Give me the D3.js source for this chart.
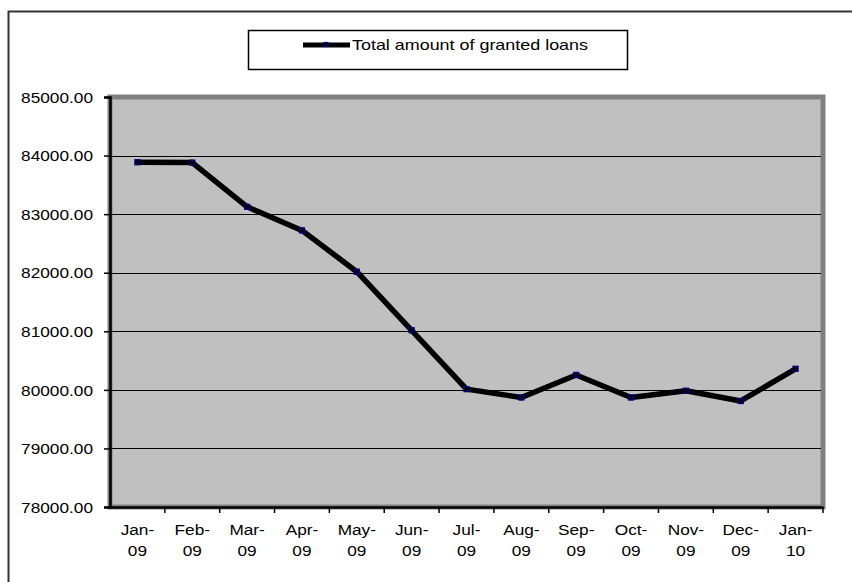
<!DOCTYPE html>
<html>
<head>
<meta charset="utf-8">
<script src="https://cdn.jsdelivr.net/npm/d3@7"></script>
<style>
  html, body { margin: 0; padding: 0; background: #fff; }
  svg { display: block; }
  text { font-family: Arial, "Liberation Sans", sans-serif; fill: #000; }
</style>
</head>
<body>
<svg id="chart" width="852" height="582"></svg>
<script>
const months = ["Jan-09","Feb-09","Mar-09","Apr-09","May-09","Jun-09","Jul-09","Aug-09","Sep-09","Oct-09","Nov-09","Dec-09","Jan-10"];
const loans = [83886, 83880, 83125, 82722, 82017, 81017, 80012, 79870, 80255, 79870, 79985, 79810, 80360];
const yTicks = [78000, 79000, 80000, 81000, 82000, 83000, 84000, 85000];
const seriesName = "Total amount of granted loans";

const svg = d3.select("#chart");
const plot = { left: 110, right: 823, top: 97, bottom: 507 };
const STRETCH = 1.15;

// outer chart border (extends past the frame on right/bottom)
svg.append("rect")
  .attr("x", 8.5).attr("y", 11.5)
  .attr("width", 900).attr("height", 700)
  .attr("fill", "#fff").attr("stroke", "#333").attr("stroke-width", 2);

const x = d3.scaleBand().domain(months).range([plot.left, plot.right]);
const y = d3.scaleLinear().domain([78000, 85000]).range([plot.bottom, plot.top]);

// plot area background
svg.append("rect")
  .attr("x", plot.left).attr("y", plot.top)
  .attr("width", plot.right - plot.left).attr("height", plot.bottom - plot.top)
  .attr("fill", "#C0C0C0").attr("stroke", "#808080").attr("stroke-width", 5);

// gridlines
svg.append("g").selectAll("line")
  .data(yTicks.filter(v => v > 78000 && v < 85000))
  .join("line")
  .attr("x1", plot.left).attr("x2", plot.right - 2)
  .attr("y1", d => Math.round(y(d)) + 0.5).attr("y2", d => Math.round(y(d)) + 0.5)
  .attr("stroke", "#000").attr("stroke-width", 1);

// y axis
const yAxis = svg.append("g")
  .attr("transform", `translate(${plot.left},0)`)
  .call(d3.axisLeft(y).tickValues(yTicks).tickSize(6).tickFormat(d3.format(".2f")));
yAxis.select(".domain").attr("stroke", "#000").attr("stroke-width", 2.5);
yAxis.selectAll(".tick line").attr("stroke", "#000").attr("stroke-width", 1.5);
yAxis.selectAll(".tick text").remove();
yAxis.selectAll(".tick").append("text")
  .attr("transform", `translate(-17,0) scale(${STRETCH},1)`)
  .attr("text-anchor", "end").attr("dy", "0.35em")
  .style("font-size", "15px")
  .text(d => d3.format(".2f")(d));

// x axis
const bw = x.bandwidth();
const xAxis = svg.append("g")
  .attr("transform", `translate(0,${plot.bottom})`)
  .call(d3.axisBottom(x).tickSize(0).tickFormat(""));
xAxis.select(".domain").attr("stroke", "#000").attr("stroke-width", 2.5);
xAxis.selectAll(".tick text").remove();
// tick marks at category boundaries
xAxis.append("g").selectAll("line")
  .data(months)
  .join("line")
  .attr("x1", d => x(d) + bw).attr("x2", d => x(d) + bw)
  .attr("y1", 0).attr("y2", 6)
  .attr("stroke", "#000").attr("stroke-width", 1.5);
const labels = xAxis.selectAll(".tick").append("text")
  .attr("transform", `translate(0,28) scale(${STRETCH},1)`)
  .attr("text-anchor", "middle")
  .style("font-size", "15px");
labels.append("tspan").attr("x", 0).attr("y", 0).text(d => d.split("-")[0] + "-");
labels.append("tspan").attr("x", 0).attr("y", 21).text(d => d.split("-")[1]);

// line
const data = months.map((m, i) => ({ m, v: loans[i] }));
const line = d3.line().x(d => x(d.m) + bw / 2).y(d => y(d.v));
svg.append("path")
  .datum(data)
  .attr("d", line)
  .attr("fill", "none").attr("stroke", "#000")
  .attr("stroke-width", 5.5).attr("stroke-linejoin", "round");

// markers
svg.append("g").selectAll("rect")
  .data(data)
  .join("rect")
  .attr("x", d => x(d.m) + bw / 2 - 2.5).attr("y", d => y(d.v) - 2.5)
  .attr("width", 5).attr("height", 5)
  .attr("fill", "#000").attr("stroke", "#000080").attr("stroke-width", 1.3);

// legend
const lg = svg.append("g");
lg.append("rect")
  .attr("x", 248.5).attr("y", 30.5).attr("width", 379).attr("height", 39)
  .attr("fill", "#fff").attr("stroke", "#000").attr("stroke-width", 1.5);
lg.append("line")
  .attr("x1", 303).attr("x2", 350).attr("y1", 45).attr("y2", 45)
  .attr("stroke", "#000").attr("stroke-width", 5);
lg.append("rect")
  .attr("x", 324).attr("y", 42.5).attr("width", 4).attr("height", 4)
  .attr("fill", "#000").attr("stroke", "#000080").attr("stroke-width", 1.2);
lg.append("text")
  .attr("x", 352).attr("y", 45)
  .attr("dy", "0.35em")
  .attr("textLength", 236).attr("lengthAdjust", "spacingAndGlyphs")
  .style("font-size", "15px")
  .text(seriesName);
</script>
</body>
</html>
